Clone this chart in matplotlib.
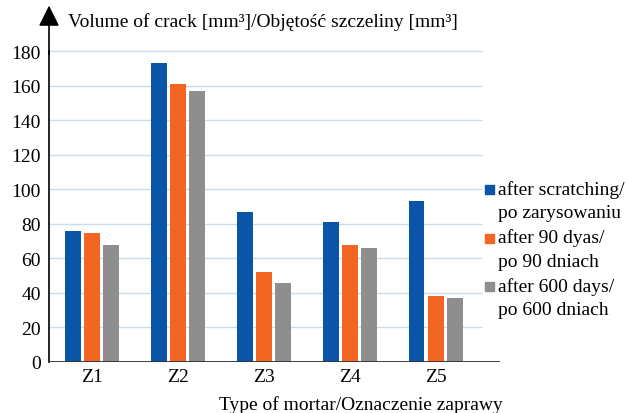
import matplotlib.pyplot as plt
import matplotlib.patches as mpatches
import numpy as np

plt.rcParams.update({'font.family': 'serif',
                     'font.serif': ['Liberation Serif', 'DejaVu Serif']})

mortars = ['Z1', 'Z2', 'Z3', 'Z4', 'Z5']
after_scratch = [76, 173, 87, 81, 93]
after_90 = [75, 161, 52, 68, 38]
after_600 = [68, 157, 46, 66, 37]
series_labels = [('after scratching/', 'po zarysowaniu'),
                 ('after 90 dyas/', 'po 90 dniach'),
                 ('after 600 days/', 'po 600 dniach')]
colors = ['#0B55A8', '#F26522', '#8E8E8E']
yticks = [0, 20, 40, 60, 80, 100, 120, 140, 160, 180]

W, H = 626, 414
fig = plt.figure(figsize=(W/100, H/100), dpi=100)
ax = fig.add_axes([49/W, 1-363/H, (500-49)/W, (363-52.3)/H])

x = np.arange(len(mortars))
width = 0.186
step = 0.222
for i, (vals, c) in enumerate(zip([after_scratch, after_90, after_600], colors)):
    ax.bar(x + (i-1)*step, vals, width, color=c, zorder=3)

ax.set_xlim(-0.5, 4.75)
ax.set_ylim(0, 180)
ax.set_yticks(yticks)
ax.tick_params(axis='y', length=0, labelsize=14, pad=6)
ax.set_xticks(x)
ax.set_xticklabels(mortars, fontsize=14)
ax.tick_params(axis='x', length=0, pad=4)
for s in ['top', 'right', 'bottom']:
    ax.spines[s].set_visible(False)
ax.spines['left'].set_color('black')
ax.spines['left'].set_linewidth(1.2)

# gridlines stop short of the legend
ax.hlines(yticks[1:], -0.5, 4.54, colors='#C9DDEA', linewidth=1.0, zorder=0,
          clip_on=False)
ax.axhline(0, color='#333333', lw=1.3, zorder=4)

# y axis arrow
ax.annotate('', xy=(0, 1.147), xytext=(0, 0.99), xycoords='axes fraction',
            arrowprops=dict(arrowstyle='-|>,head_length=0.9,head_width=0.45',
                            color='black', lw=1.2, mutation_scale=14,
                            shrinkA=0, shrinkB=0))

fig.text(68/W, 1-22/H, 'Volume of crack [mm³]/Objętość szczeliny [mm³]',
         fontsize=14, ha='left', va='center')
fig.text(361/W, 1-405/H, 'Type of mortar/Oznaczenie zaprawy',
         fontsize=14, ha='center', va='center')

# legend
for i, ((l1, l2), c) in enumerate(zip(series_labels, colors)):
    y0 = 190 + i*48.5
    fig.patches.append(mpatches.Rectangle((485/W, 1-(y0+5)/H), 9/W, 9/H,
                                          transform=fig.transFigure, color=c))
    fig.text(498/W, 1-y0/H, l1, fontsize=14, ha='left', va='center')
    fig.text(498/W, 1-(y0+24)/H, l2, fontsize=14, ha='left', va='center')

plt.savefig('out.png', dpi=100, facecolor='white')
